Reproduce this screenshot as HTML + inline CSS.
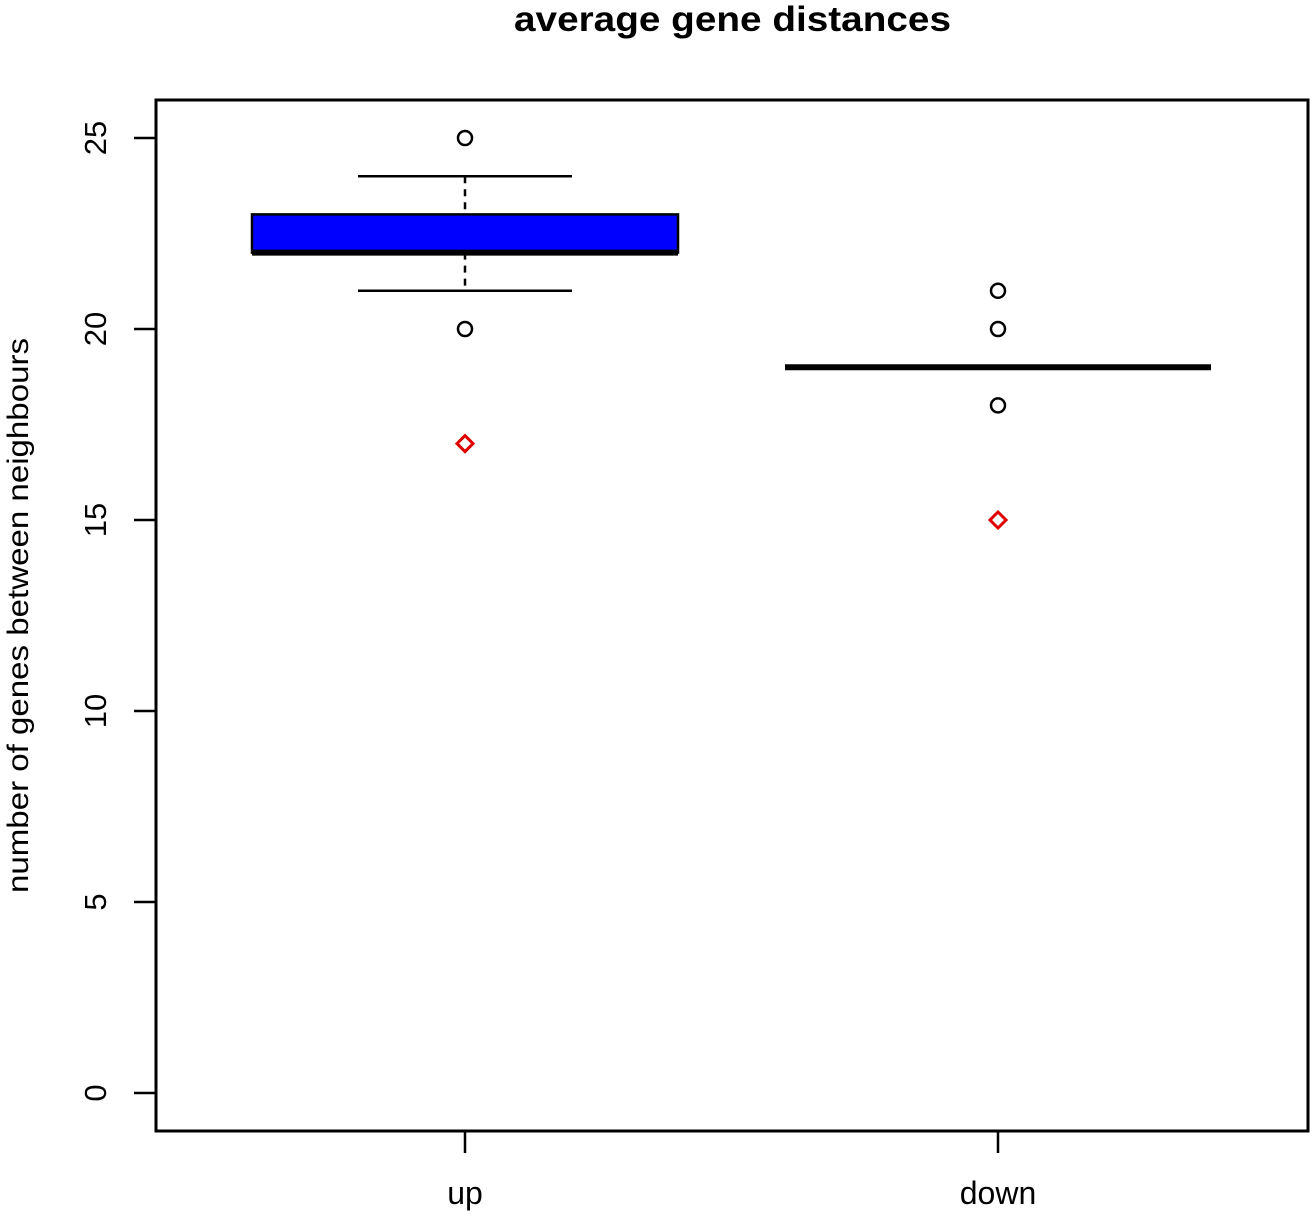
<!DOCTYPE html>
<html><head><meta charset="utf-8"><style>
html,body{margin:0;padding:0;background:#fff;}
svg{display:block;font-family:"Liberation Sans",Arial,sans-serif;}
</style></head><body>
<svg id="chart" width="1312" height="1216" viewBox="0 0 1312 1216">
<text x="514" y="31" textLength="437" lengthAdjust="spacingAndGlyphs" font-size="35" font-weight="bold">average gene distances</text>
<rect x="156" y="100" width="1152" height="1031" fill="none" stroke="#000" stroke-width="3"/>
<text transform="translate(28,893) rotate(-90)" textLength="555" lengthAdjust="spacingAndGlyphs" font-size="30">number of genes between neighbours</text>
<g id="axes"></g>
<g id="marks"></g>
</svg>
<script>
const categories = ["up", "down"];
const q1 = [22, 19];
const medians = [22, 19];
const q3 = [23, 19];
const whiskLow = [21, 19];
const whiskHigh = [24, 19];
const outliers = [[25, 20], [21, 20, 18]];
const means = [17, 15];
const yTicks = [0, 5, 10, 15, 20, 25];

const NS = "http://www.w3.org/2000/svg";
function y(v){ return 1093 - v * 38.2; }
function x(i){ return 465 + i * 533; }
const halfW = 213;
function mk(tag, attrs, parent){
  const e = document.createElementNS(NS, tag);
  for (const k in attrs) e.setAttribute(k, attrs[k]);
  parent.appendChild(e);
  return e;
}
const axes = document.getElementById("axes");
const marks = document.getElementById("marks");

yTicks.forEach(t => {
  const l = mk("line", {x1:134, x2:156, y1:y(t), y2:y(t), stroke:"#000", "stroke-width":2.5}, axes);
  
  
  const tx = mk("text", {transform:`translate(106,${y(t)}) rotate(-90)`, "text-anchor":"middle", "font-size":31}, axes);
  tx.textContent = t;
  
  
});

categories.forEach((c, i) => {
  const cx = x(i);
  const tk = mk("line", {x1:cx, x2:cx, y1:1131, y2:1153, stroke:"#000", "stroke-width":2.5}, axes);
  
  
  const lb = mk("text", {x:cx, y:1204, "text-anchor":"middle", "font-size":32}, axes);
  lb.textContent = c;
  
  

  const g = mk("g", {}, marks);
  
  
  mk("line", {x1:cx, x2:cx, y1:y(whiskHigh[i]), y2:y(q3[i]), stroke:"#000", "stroke-width":2.5, "stroke-dasharray":"7,6"}, g);
  mk("line", {x1:cx, x2:cx, y1:y(q1[i]), y2:y(whiskLow[i]), stroke:"#000", "stroke-width":2.5, "stroke-dasharray":"7,6"}, g);
  mk("line", {x1:cx-107, x2:cx+107, y1:y(whiskHigh[i]), y2:y(whiskHigh[i]), stroke:"#000", "stroke-width":2.5}, g);
  mk("line", {x1:cx-107, x2:cx+107, y1:y(whiskLow[i]), y2:y(whiskLow[i]), stroke:"#000", "stroke-width":2.5}, g);
  if (q3[i] > q1[i]) {
    mk("rect", {x:cx-halfW, y:y(q3[i]), width:halfW*2, height:y(q1[i])-y(q3[i]), fill:"#0000ff", stroke:"#000", "stroke-width":2.5}, g);
  }
  mk("line", {x1:cx-halfW, x2:cx+halfW, y1:y(medians[i]), y2:y(medians[i]), stroke:"#000", "stroke-width":6}, g);
  outliers[i].forEach(v => {
    const o = mk("circle", {cx:cx, cy:y(v), r:7, fill:"none", stroke:"#000", "stroke-width":2.5}, g);
    
    
  });
  const my = y(means[i]);
  const d = mk("polygon", {points:`${cx},${my-8} ${cx+8},${my} ${cx},${my+8} ${cx-8},${my}`, fill:"none", stroke:"#e00000", "stroke-width":3}, g);
  
  
});
</script>
</body></html>
